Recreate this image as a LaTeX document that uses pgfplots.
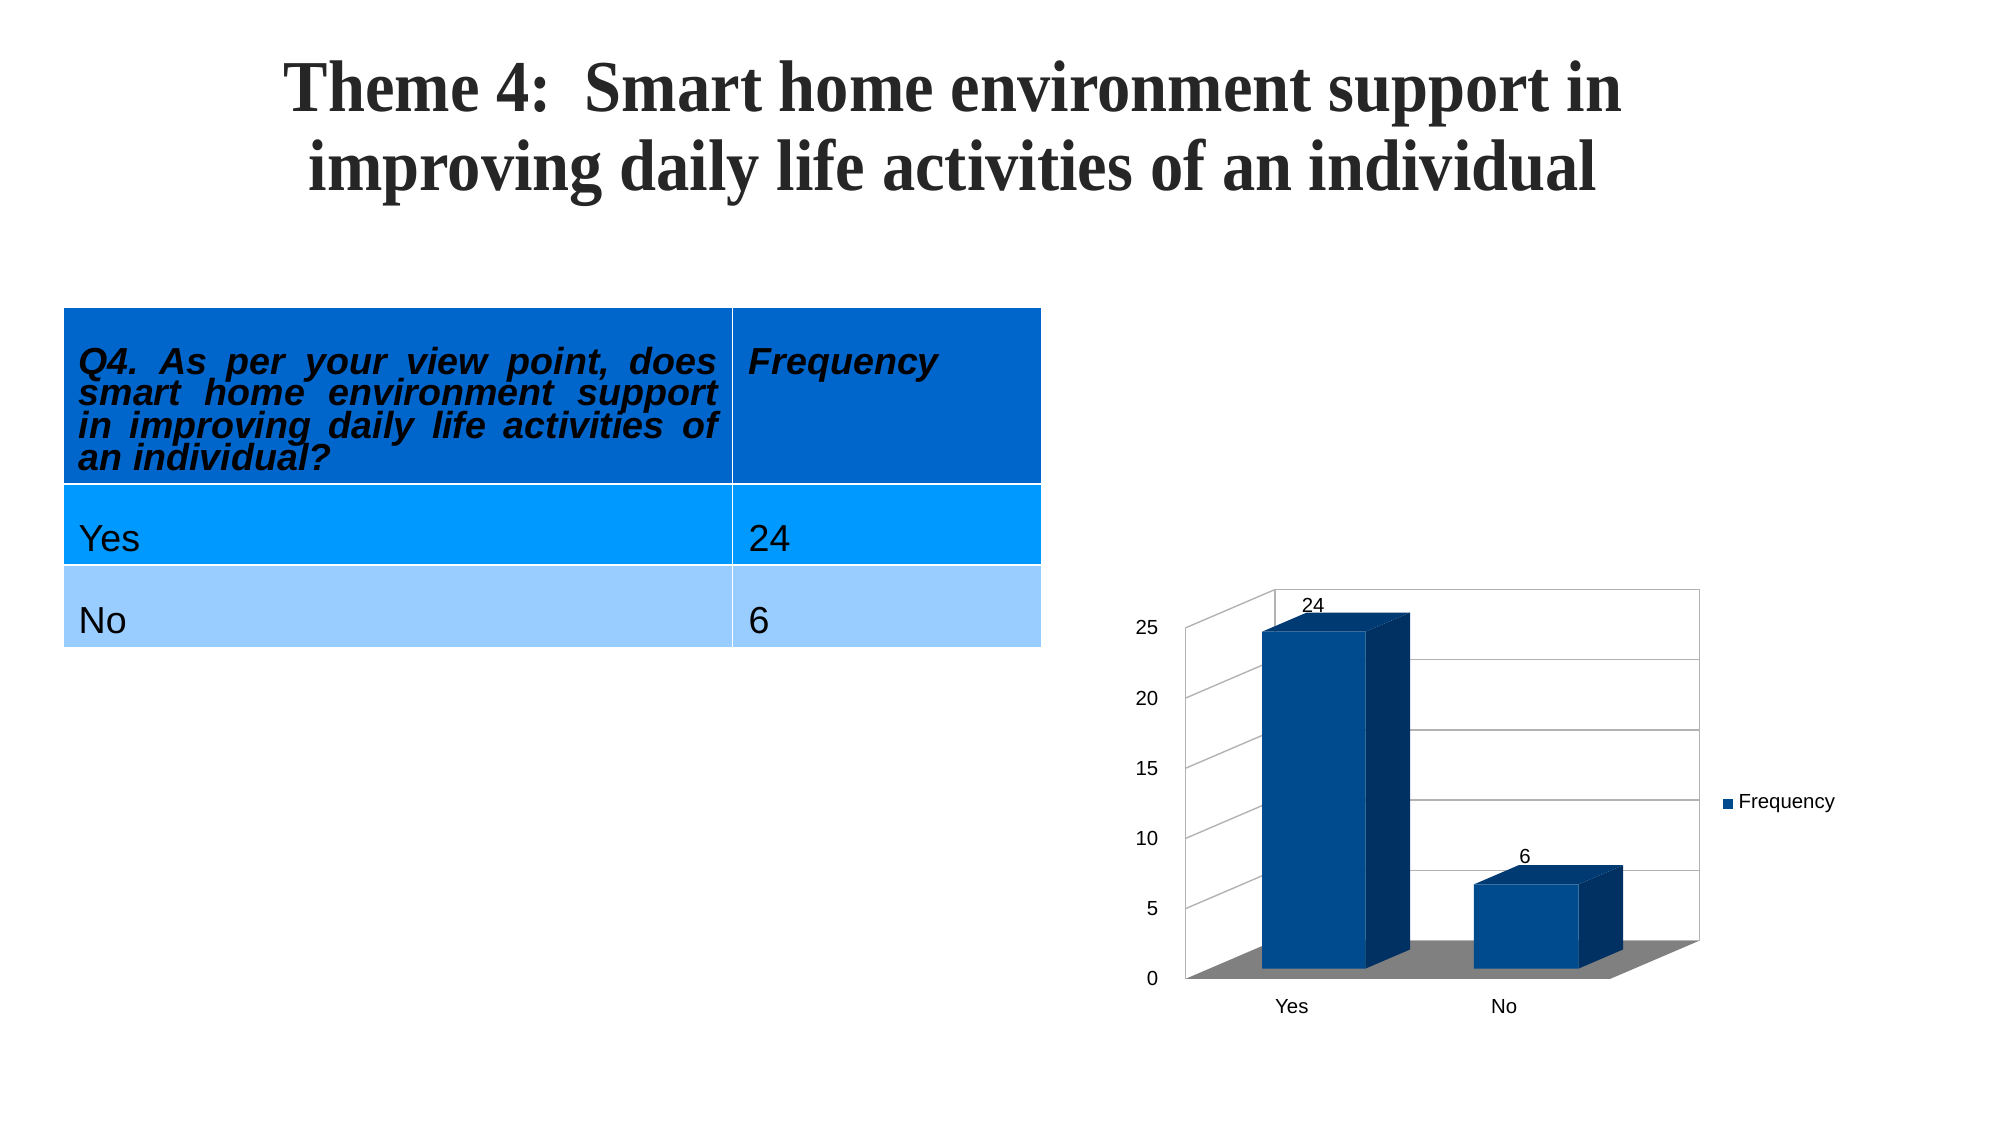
\documentclass[border=0pt]{standalone}
\usepackage{pgfplots}
\pgfplotsset{compat=1.18}
\usepackage{fontspec}
\usepackage{graphicx}
\setmainfont{Liberation Sans}
\newfontfamily\titlefont{Liberation Serif}
\definecolor{hdr}{RGB}{0,102,204}
\definecolor{rowyes}{RGB}{0,153,255}
\definecolor{rowno}{RGB}{153,204,255}
\definecolor{barfront}{RGB}{0,74,142}
\definecolor{barside}{RGB}{0,49,98}
\definecolor{bartop}{RGB}{0,58,115}
\definecolor{floorc}{RGB}{128,128,128}
\definecolor{gridc}{RGB}{179,179,179}
\definecolor{titlec}{RGB}{38,38,38}
\newcommand\hf{\fontsize{10.7}{10.7}\selectfont\bfseries\itshape}
\newcommand\bodyf{\fontsize{10.7}{10.7}\selectfont}
\newcommand\cf{\fontsize{5.8}{6.8}\selectfont}
\frenchspacing
\begin{document}
\begin{tikzpicture}
\path[use as bounding box] (0,0) rectangle (20.01,11.25);
% title
\node[anchor=base, inner sep=0, text=titlec] at (9.53,10.13) {\scalebox{0.91}[1]{\titlefont\bfseries\fontsize{20.8}{25}\selectfont Theme 4:\ \ Smart home environment support in}};
\node[anchor=base, inner sep=0, text=titlec] at (9.53,9.34) {\scalebox{0.91}[1]{\titlefont\bfseries\fontsize{20.8}{25}\selectfont improving daily life activities of an individual}};
% table
\fill[hdr] (0.64,8.17) rectangle (10.41,6.41);
\fill[rowyes] (0.64,6.41) rectangle (10.41,5.60);
\fill[rowno] (0.64,5.60) rectangle (10.41,4.78);
\draw[white, line width=0.015cm] (7.325,8.17) -- (7.325,4.78);
\draw[white, line width=0.015cm] (0.64,6.41) -- (10.41,6.41);
\draw[white, line width=0.015cm] (0.64,5.60) -- (10.41,5.60);
\node[anchor=base west, inner sep=0] at (0.78,7.51) {\hf\hbox to 6.39cm{Q4. As per your view point, does}};
\node[anchor=base west, inner sep=0] at (0.78,7.19) {\hf\hbox to 6.39cm{smart home environment support}};
\node[anchor=base west, inner sep=0] at (0.78,6.87) {\hf\hbox to 6.39cm{in improving daily life activities of}};
\node[anchor=base west, inner sep=0] at (0.78,6.55) {\hf an individual?};
\node[anchor=base west, inner sep=0] at (7.48,7.51) {\hf Frequency};
\node[anchor=base west, inner sep=0] at (0.78,5.74) {\bodyf Yes};
\node[anchor=base west, inner sep=0] at (7.48,5.74) {\bodyf 24};
\node[anchor=base west, inner sep=0] at (0.78,4.92) {\bodyf No};
\node[anchor=base west, inner sep=0] at (7.48,4.92) {\bodyf 6};
% chart
\begin{axis}[at={(11.856cm,1.462cm)}, anchor=south west,
  x=0.012762cm, y=0.14038cm,
  xmin=0, xmax=403, ymin=0, ymax=27.727,
  enlargelimits=false, clip=false,
  axis line style={draw=none}, major tick length=0, tick style={draw=none},
  xtick={83.25,249.75}, xticklabels={Yes,No},
  ytick={0,5,10,15,20,25},
  ticklabel style={font=\cf},
  xticklabel style={yshift=-0.08cm},
  yticklabel style={xshift=-0.15cm},
  /pgf/number format/assume math mode=true,
  legend style={at={(1.0447,0.449)}, anchor=west, draw=none, fill=none, inner sep=0pt, font=\cf, legend cell align=left,
    nodes={inner xsep=1.5pt, inner ysep=0pt}},
  legend image code/.code={\fill[barfront] (0cm,-0.05cm) rectangle (0.1cm,0.05cm);},
]
% floor
\addplot[fill=floorc, draw=none, forget plot] coordinates {(0,0) (333,0) (403,2.727) (70,2.727) (0,0)};
% back wall grid
\addplot[gridc, line width=0.4pt, forget plot] coordinates {(70,2.727) (403,2.727)};
\addplot[gridc, line width=0.4pt, forget plot] coordinates {(70,7.727) (403,7.727)};
\addplot[gridc, line width=0.4pt, forget plot] coordinates {(70,12.727) (403,12.727)};
\addplot[gridc, line width=0.4pt, forget plot] coordinates {(70,17.727) (403,17.727)};
\addplot[gridc, line width=0.4pt, forget plot] coordinates {(70,22.727) (403,22.727)};
\addplot[gridc, line width=0.4pt, forget plot] coordinates {(70,27.727) (403,27.727)};
% left wall grid
\addplot[gridc, line width=0.4pt, forget plot] coordinates {(0,5) (70,7.727)};
\addplot[gridc, line width=0.4pt, forget plot] coordinates {(0,10) (70,12.727)};
\addplot[gridc, line width=0.4pt, forget plot] coordinates {(0,15) (70,17.727)};
\addplot[gridc, line width=0.4pt, forget plot] coordinates {(0,20) (70,22.727)};
\addplot[gridc, line width=0.4pt, forget plot] coordinates {(0,25) (70,27.727)};
% wall edges
\addplot[gridc, line width=0.4pt, forget plot] coordinates {(0,0) (0,25)};
\addplot[gridc, line width=0.4pt, forget plot] coordinates {(70,2.727) (70,27.727)};
\addplot[gridc, line width=0.4pt, forget plot] coordinates {(403,2.727) (403,27.727)};
% Yes bar (24)
\addplot[fill=barside, draw=none, forget plot] coordinates {(141,0.727) (176,2.091) (176,26.091) (141,24.727) (141,0.727)};
\addplot[fill=bartop, draw=none, forget plot] coordinates {(60,24.727) (141,24.727) (176,26.091) (95,26.091) (60,24.727)};
\addplot[fill=barfront, draw=none] coordinates {(60,0.727) (141,0.727) (141,24.727) (60,24.727) (60,0.727)};
\addlegendentry{Frequency}
% No bar (6)
\addplot[fill=barside, draw=none, forget plot] coordinates {(308,0.727) (343,2.091) (343,8.091) (308,6.727) (308,0.727)};
\addplot[fill=bartop, draw=none, forget plot] coordinates {(226,6.727) (308,6.727) (343,8.091) (261,8.091) (226,6.727)};
\addplot[fill=barfront, draw=none, forget plot] coordinates {(226,0.727) (308,0.727) (308,6.727) (226,6.727) (226,0.727)};
% value labels
\node[font=\cf, anchor=base, inner sep=0] at (axis cs:100,26.1) {24};
\node[font=\cf, anchor=base, inner sep=0] at (axis cs:266,8.18) {6};
\end{axis}
\end{tikzpicture}
\end{document}
